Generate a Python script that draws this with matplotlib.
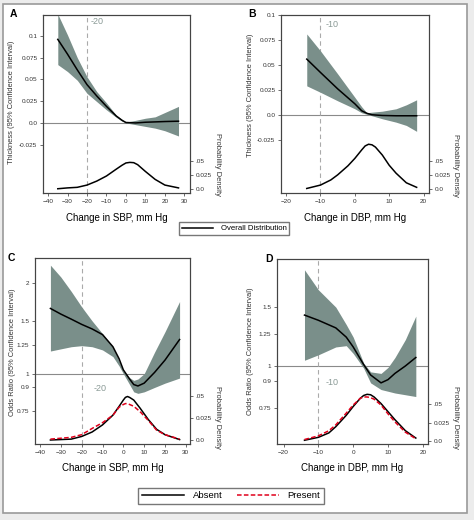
import matplotlib.pyplot as plt
from matplotlib.lines import Line2D
from matplotlib.patches import Rectangle

plt.rcParams['font.family'] = ['Liberation Sans', 'DejaVu Sans']

# ---- panel A: SBP change vs thickness ----
a_x = [-35, -30, -25, -20, -15, -10, -5, -2, 0, 5, 10, 15, 20, 27]
a_fit = [0.096, 0.079, 0.061, 0.044, 0.031, 0.019, 0.008, 0.003, 0.0005, 0.0, 0.0008, 0.0012, 0.0016, 0.002]
a_hi = [0.125, 0.101, 0.075, 0.053, 0.036, 0.023, 0.009, 0.004, 0.001, 0.003, 0.0054, 0.007, 0.012, 0.019]
a_lo = [0.067, 0.059, 0.049, 0.034, 0.0245, 0.015, 0.0065, 0.002, 0.0, -0.002, -0.004, -0.006, -0.009, -0.015]
a_dx = [-35, -30, -25, -20, -15, -10, -5, -2, 0, 2, 4, 6, 10, 15, 20, 27]
a_dens = [0.0005, 0.002, 0.003, 0.007, 0.014, 0.023, 0.035, 0.042, 0.046, 0.047, 0.0465, 0.043, 0.031, 0.017, 0.007, 0.002]

# ---- panel B: DBP change vs thickness ----
b_x = [-14, -10, -5, 0, 2, 3.5, 5, 8, 12, 15, 18]
b_fit = [0.0558, 0.0424, 0.026, 0.011, 0.004, 0.0015, 0.0, -0.0007, -0.001, -0.001, -0.001]
b_hi = [0.081, 0.064, 0.041, 0.0175, 0.008, 0.002, 0.0026, 0.0036, 0.006, 0.010, 0.015]
b_lo = [0.029, 0.0225, 0.014, 0.006, 0.002, 0.0005, -0.001, -0.004, -0.0074, -0.0107, -0.0166]
b_dx = [-14, -10, -7, -5, -2, 0, 2, 3, 4, 5, 6, 8, 10, 12, 15, 18]
b_dens = [0.001, 0.007, 0.016, 0.025, 0.041, 0.054, 0.069, 0.076, 0.079, 0.078, 0.074, 0.060, 0.042, 0.028, 0.011, 0.003]

# ---- panel C: SBP change vs odds ratio ----
c_x = [-35, -30, -25, -20, -15, -10, -5, -2, 0, 3, 5, 7, 10, 15, 20, 27]
c_fit = [1.65, 1.58, 1.52, 1.46, 1.41, 1.35, 1.23, 1.12, 1.03, 0.96, 0.92, 0.91, 0.93, 1.01, 1.11, 1.30]
c_hi = [2.30, 2.10, 1.88, 1.67, 1.50, 1.36, 1.23, 1.10, 1.02, 0.97, 0.95, 0.96, 1.00, 1.18, 1.38, 1.74]
c_lo = [1.19, 1.21, 1.23, 1.24, 1.23, 1.20, 1.14, 1.06, 1.00, 0.92, 0.87, 0.86, 0.87, 0.90, 0.93, 0.967]
c_dx = [-35, -30, -25, -20, -15, -10, -5, -2, 0, 1, 2, 3, 5, 8, 12, 16, 20, 27]
c_absent = [0.0, 0.0005, 0.001, 0.004, 0.009, 0.017, 0.028, 0.038, 0.045, 0.048, 0.049, 0.048, 0.045, 0.036, 0.023, 0.012, 0.006, 0.0005]
c_present = [0.001, 0.002, 0.003, 0.006, 0.013, 0.0195, 0.028, 0.037, 0.040, 0.041, 0.041, 0.040, 0.038, 0.032, 0.022, 0.011, 0.006, 0.001]

# ---- panel D: DBP change vs odds ratio ----
d_x = [-14, -10, -5, -2, 0, 3, 5, 8, 10, 12, 15, 18]
d_fit = [1.42, 1.37, 1.30, 1.22, 1.14, 1.01, 0.94, 0.89, 0.91, 0.95, 1.00, 1.06]
d_hi = [1.94, 1.69, 1.50, 1.33, 1.22, 1.02, 0.96, 0.95, 0.99, 1.06, 1.20, 1.41]
d_lo = [1.04, 1.08, 1.14, 1.15, 1.09, 0.985, 0.89, 0.85, 0.84, 0.83, 0.82, 0.81]
d_dx = [-14, -10, -7, -5, -2, 0, 2, 3, 4, 5, 6, 8, 10, 12, 15, 18]
d_absent = [0.001, 0.005, 0.011, 0.0195, 0.035, 0.047, 0.058, 0.062, 0.0636, 0.063, 0.060, 0.051, 0.040, 0.029, 0.014, 0.004]
d_present = [0.002, 0.007, 0.014, 0.022, 0.038, 0.049, 0.058, 0.060, 0.060, 0.059, 0.057, 0.049, 0.037, 0.026, 0.012, 0.003]

thick_ticks = [-0.025, 0, 0.025, 0.05, 0.075, 0.1]
thick_labels = ['-0.025', '0.0', '0.025', '0.05', '0.075', '0.1']
or_ticks_c = [0.75, 0.9, 1, 1.25, 1.5, 2]
or_ticks_d = [0.75, 0.9, 1, 1.25, 1.5]
dens_ticks = [0, 0.025, 0.05]
dens_labels = ['0.0', '0.025', '.05']

band = '#7a8f8a'
tick_fs = 4.6

fig = plt.figure(figsize=(4.74, 5.2), dpi=100, facecolor='#ececec')
fig.patches.append(Rectangle((3 / 474, 1 - 513 / 520), 464 / 474, 509 / 520,
                             transform=fig.transFigure, facecolor='white',
                             edgecolor='#9a9a9a', lw=1.2, zorder=-5))


def px(x0, y0, x1, y1):
    # pixel box -> figure fraction
    return [x0 / 474, 1 - y1 / 520, (x1 - x0) / 474, (y1 - y0) / 520]


def style(ax):
    for s in ax.spines.values():
        s.set_color('#444444')
        s.set_linewidth(0.8)
    ax.tick_params(labelsize=tick_fs, length=2.5, width=0.5, pad=1.5, colors='#333333')


def panel(box, x, fit, hi, lo, xlim, ylim, ref, dx, dens, dylim, xticks, xlabel, ylabel,
          yticks, ylabels, letter, lpos, reftxt, log=False, dens2=None):
    ax = fig.add_axes(px(*box))
    if log:
        ax.set_yscale('log')
    ax.fill_between(x, lo, hi, color=band, lw=0, zorder=2)
    ax.plot(x, fit, color='black', lw=1.1, zorder=3)
    ax.axhline(1 if log else 0, color='#8a8a8a', lw=0.8, zorder=1)
    ax.axvline(ref, color='#aaaaaa', lw=0.8, ls=(0, (4, 3)), zorder=1)
    ax.text(reftxt[0], reftxt[1], str(ref), color='#8a9a96', fontsize=6.5, zorder=4)
    ax.set_xlim(*xlim)
    ax.set_ylim(*ylim)
    ax.set_xticks(xticks)
    ax.set_yticks(yticks)
    ax.set_yticklabels(ylabels)
    ax.minorticks_off()
    style(ax)

    ax2 = ax.twinx()
    ax2.plot(dx, dens, color='black', lw=1.1)
    if dens2 is not None:
        ax2.plot(dx, dens2, color='#e0001b', lw=1.1, ls=(0, (3, 1.5)))
    ax2.set_ylim(*dylim)
    ax2.set_yticks(dens_ticks)
    ax2.set_yticklabels(dens_labels)
    style(ax2)

    x0, y0, x1, y1 = box
    fig.text((x0 + x1) / 2 / 474, 1 - lpos[0] / 520, xlabel, ha='center', va='center', fontsize=7)
    fig.text(lpos[1] / 474, 1 - lpos[2] / 520, ylabel, ha='center', va='center',
             rotation=90, fontsize=5.4, color='#333333')
    fig.text(lpos[3] / 474, 1 - lpos[4] / 520, 'Probability Density', ha='center', va='center',
             rotation=-90, fontsize=5.4, color='#333333')
    fig.text(lpos[5] / 474, 1 - lpos[6] / 520, letter, ha='left', va='center',
             fontsize=7.5, fontweight='bold')
    return ax


panel((43, 15, 190, 193), a_x, a_fit, a_hi, a_lo, (-42.6, 32.9), (-0.0805, 0.124), -20,
      a_dx, a_dens, (-0.007, 0.307), range(-40, 31, 10), 'Change in SBP, mm Hg',
      'Thickness (95% Confidence Interval)', thick_ticks, thick_labels, 'A',
      (218, 12, 102, 218, 164, 10, 14), (-18, 0.114))

panel((281, 15, 429, 193), b_x, b_fit, b_hi, b_lo, (-21.5, 21.6), (-0.0784, 0.1), -10,
      b_dx, b_dens, (-0.007, 0.307), range(-20, 21, 10), 'Change in DBP, mm Hg',
      'Thickness (95% Confidence Interval)', thick_ticks, thick_labels, 'B',
      (218, 251, 95, 455, 165, 248, 14), (-8.4, 0.088))

panel((35, 258, 190, 444), c_x, c_fit, c_hi, c_lo, (-42.4, 32), (0.583, 2.43), -20,
      c_dx, c_absent, (-0.0045, 0.205), range(-40, 31, 10), 'Change in SBP, mm Hg',
      'Odds Ratio (95% Confidence Interval)', or_ticks_c, ['0.75', '0.9', '1', '1.25', '1.5', '2'],
      'C', (468, 13, 352, 218, 417, 8, 258), (-14.5, 0.875), log=True, dens2=c_present)

panel((277, 259, 428, 444), d_x, d_fit, d_hi, d_lo, (-21.9, 21.5), (0.584, 2.09), -10,
      d_dx, d_absent, (-0.0041, 0.248), range(-20, 21, 10), 'Change in DBP, mm Hg',
      'Odds Ratio (95% Confidence Interval)', or_ticks_d, ['0.75', '0.9', '1', '1.25', '1.5'],
      'D', (468, 250, 351, 455, 417, 265, 259), (-7.8, 0.875), log=True, dens2=d_present)

# legends
h1 = [Line2D([], [], color='black', lw=1.1)]
fig.legend(h1, ['Overall Distribution'], loc='center', bbox_to_anchor=(234 / 474, 1 - 228.5 / 520),
           fontsize=5.6, frameon=True, fancybox=False, edgecolor='#555555', handlelength=4,
           borderpad=0.4, handletextpad=1.0)
h2 = [Line2D([], [], color='black', lw=1.1),
      Line2D([], [], color='#e0001b', lw=1.1, ls=(0, (3, 1.5)))]
fig.legend(h2, ['Absent', 'Present'], loc='center', bbox_to_anchor=(231 / 474, 1 - 496 / 520),
           ncol=2, fontsize=6.8, frameon=True, fancybox=False, edgecolor='#555555',
           handlelength=4.5, borderpad=0.35, handletextpad=0.9, columnspacing=1.5)

fig.savefig('out.png', dpi=100, facecolor=fig.get_facecolor())
